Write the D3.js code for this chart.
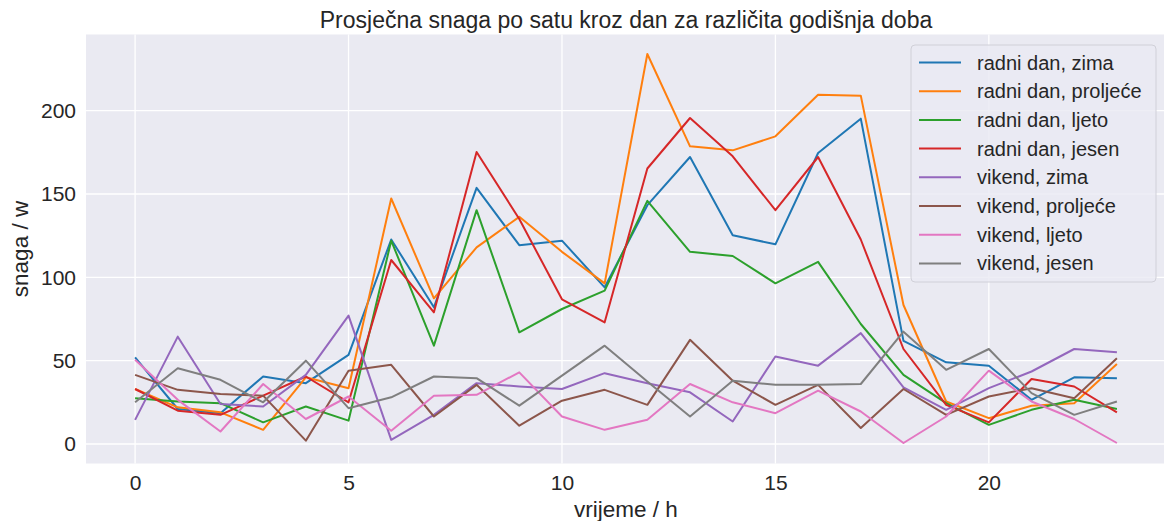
<!DOCTYPE html>
<html>
<head>
<meta charset="utf-8">
<script src="https://cdn.jsdelivr.net/npm/d3@7"></script>
<style>
  body { margin: 0; background: #fff; }
  text { font-family: "Liberation Sans", Arial, sans-serif; fill: #262626; }
</style>
</head>
<body>
<div id="chart-area"></div>
<script>
// hours 0..23
const hours = d3.range(0, 24);

const seriesNames = [
  'radni dan, zima', 'radni dan, proljeće', 'radni dan, ljeto', 'radni dan, jesen',
  'vikend, zima', 'vikend, proljeće', 'vikend, ljeto', 'vikend, jesen'
];

const radniZima = [52, 21, 18.5, 40.5, 36.5, 53.5, 122.7, 82, 153.7, 119.3, 122, 94, 143.3, 172.2, 125.3, 119.8, 174.6, 195.2, 61.9, 49, 47, 26.5, 40, 39.5];
const radniProljece = [33, 22, 19, 8.5, 40, 33.5, 147.3, 87.4, 118, 136.3, 115.3, 96.4, 234, 178.6, 176.2, 184.6, 209.6, 209, 83.4, 25.5, 15.5, 23, 24.5, 48];
const radniLjeto = [27.5, 25.5, 24.5, 13, 22.5, 14, 122, 59, 140.3, 67, 81, 92, 145.9, 115.3, 112.8, 96.4, 109.3, 72, 41.5, 24.5, 11.5, 20.5, 26.5, 21];
const radniJesen = [33, 20, 17.5, 29, 40.5, 25, 110.4, 79, 175.2, 135, 86.8, 73, 165.3, 195.6, 172.6, 140.3, 172.2, 122.7, 57, 23.5, 13, 39, 34.5, 19];
const vikendZima = [14.5, 64.4, 24, 22.5, 41.5, 77, 2.5, 17.5, 36.5, 34.5, 33, 42.5, 36.5, 31, 13.5, 52.5, 47, 66.5, 34, 20.5, 33.5, 43.5, 57, 55];
const vikendProljece = [41.5, 32.5, 30, 29, 2, 44, 47.5, 16.5, 35.5, 11, 26, 32.5, 23.5, 62.5, 38, 23.5, 35.5, 9.6, 33, 17.5, 28.5, 33.5, 27.5, 51.5];
const vikendLjeto = [50.5, 26.5, 7.5, 36, 15, 28.5, 8, 29, 29.5, 43, 16.5, 8.5, 14.5, 36, 25, 18.5, 32, 19.5, 0.6, 16.5, 44, 25.5, 15, 0.6];
const vikendJesen = [25, 45.5, 38.5, 25, 50, 21.5, 28, 40.5, 39.5, 23, 41, 59, 37.5, 16.5, 38, 35.5, 35.5, 36, 67.4, 44.5, 57, 30.5, 17.5, 25.5];

const xTicks = [0, 5, 10, 15, 20];
const yTicks = [0, 50, 100, 150, 200];

const allSeries = [radniZima, radniProljece, radniLjeto, radniJesen,
                   vikendZima, vikendProljece, vikendLjeto, vikendJesen];
const colors = ['#1f77b4', '#ff7f0e', '#2ca02c', '#d62728',
                '#9467bd', '#8c564b', '#e377c2', '#7f7f7f'];

const W = 1164, H = 521;
const plot = { left: 86, right: 1166, top: 34.5, bottom: 463.5 };

const svg = d3.select('#chart-area')
  .append('svg')
  .attr('width', W)
  .attr('height', H);

// scales (matplotlib-like 5% margins)
const yMax = d3.max(allSeries.flat());
const yPad = yMax * 0.05;
const x = d3.scaleLinear().domain([-1.15, 24.15]).range([plot.left, plot.right]);
const y = d3.scaleLinear().domain([-yPad, yMax + yPad]).range([plot.bottom, plot.top]);

// background
svg.append('rect')
  .attr('x', plot.left).attr('y', plot.top)
  .attr('width', plot.right - plot.left)
  .attr('height', plot.bottom - plot.top)
  .attr('fill', '#eaeaf2');

// grid
svg.append('g').selectAll('line')
  .data(xTicks).enter().append('line')
  .attr('x1', d => x(d)).attr('x2', d => x(d))
  .attr('y1', plot.top).attr('y2', plot.bottom)
  .attr('stroke', '#fff').attr('stroke-width', 1.3);
svg.append('g').selectAll('line')
  .data(yTicks).enter().append('line')
  .attr('x1', plot.left).attr('x2', plot.right)
  .attr('y1', d => y(d)).attr('y2', d => y(d))
  .attr('stroke', '#fff').attr('stroke-width', 1.3);

// axes
const xAxis = d3.axisBottom(x).tickValues(xTicks).tickSize(0).tickPadding(12);
svg.append('g')
  .attr('transform', `translate(0, ${plot.bottom})`)
  .call(xAxis)
  .call(g => g.select('.domain').remove())
  .selectAll('text')
  .attr('font-size', 21)
  .attr('fill', '#262626');

const yAxis = d3.axisLeft(y).tickValues(yTicks).tickSize(0).tickPadding(10);
svg.append('g')
  .attr('transform', `translate(${plot.left}, 0)`)
  .call(yAxis)
  .call(g => g.select('.domain').remove())
  .selectAll('text')
  .attr('font-size', 21)
  .attr('fill', '#262626');

// lines
const line = d3.line()
  .x((d, i) => x(hours[i]))
  .y(d => y(d));

svg.append('g').selectAll('path')
  .data(allSeries).enter().append('path')
  .attr('d', line)
  .attr('fill', 'none')
  .attr('stroke', (d, i) => colors[i])
  .attr('stroke-width', 2)
  .attr('stroke-linejoin', 'round');

// title and labels
svg.append('text')
  .attr('x', (plot.left + plot.right) / 2)
  .attr('y', 28)
  .attr('text-anchor', 'middle')
  .attr('font-size', 23)
  .text('Prosječna snaga po satu kroz dan za različita godišnja doba');

svg.append('text')
  .attr('x', (plot.left + plot.right) / 2)
  .attr('y', 517)
  .attr('text-anchor', 'middle')
  .attr('font-size', 22.5)
  .text('vrijeme / h');

svg.append('text')
  .attr('transform', `translate(28, ${(plot.top + plot.bottom) / 2}) rotate(-90)`)
  .attr('text-anchor', 'middle')
  .attr('font-size', 22.5)
  .text('snaga / w');

// legend
const legend = svg.append('g').attr('transform', 'translate(911, 45)');
legend.append('rect')
  .attr('width', 245).attr('height', 237)
  .attr('rx', 4)
  .attr('fill', '#eaeaf2').attr('fill-opacity', 0.8)
  .attr('stroke', '#d0d0d8');

const items = legend.selectAll('g.item')
  .data(seriesNames).enter().append('g')
  .attr('class', 'item')
  .attr('transform', (d, i) => `translate(0, ${17.5 + i * 28.7})`);
items.append('line')
  .attr('x1', 8).attr('x2', 50)
  .attr('stroke', (d, i) => colors[i])
  .attr('stroke-width', 2);
items.append('text')
  .attr('x', 66).attr('dy', '0.35em')
  .attr('font-size', 20)
  .text(d => d);
</script>
</body>
</html>
